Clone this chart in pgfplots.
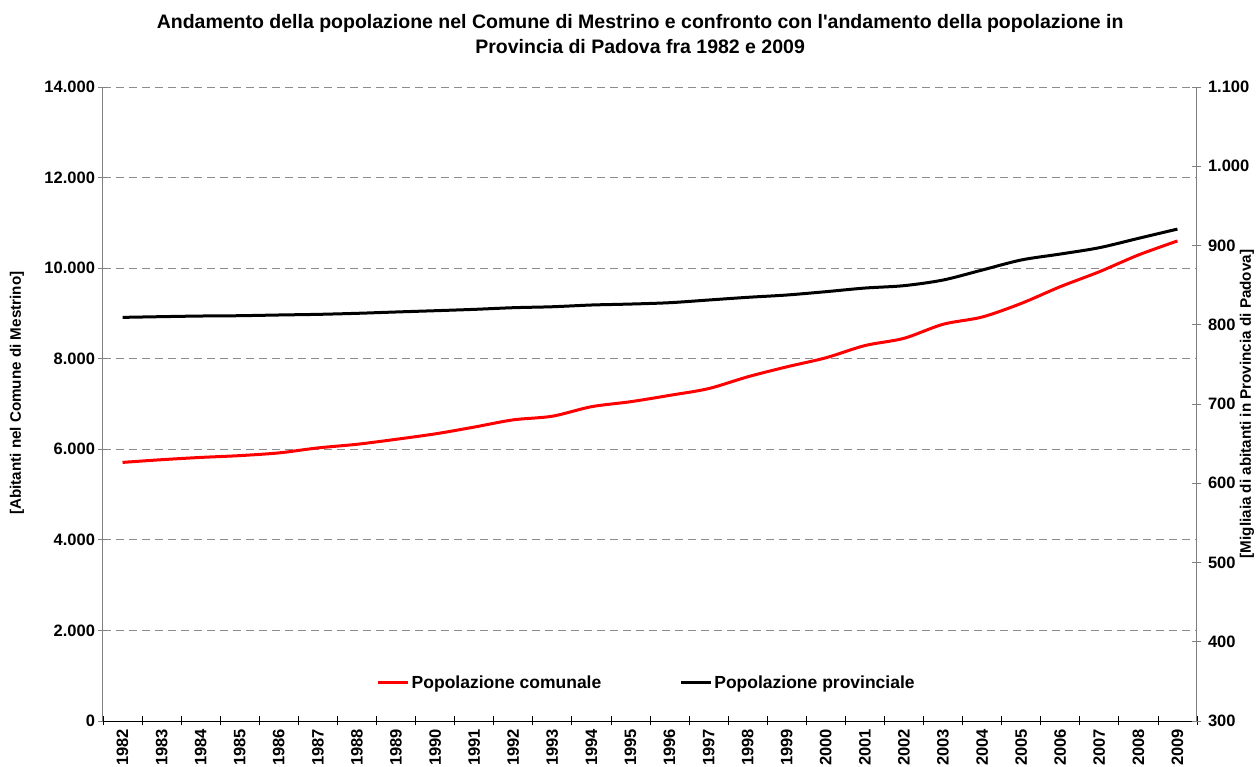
\documentclass[border=0pt]{standalone}
\usepackage{fontspec}
\setmainfont{Liberation Sans}
\usepackage{pgfplots}
\pgfplotsset{compat=1.18}
\definecolor{gridgray}{RGB}{140,140,140}
\definecolor{axgray}{RGB}{128,128,128}
\definecolor{exred}{RGB}{255,0,0}
\newcommand{\tf}{\fontsize{16.5}{18}\selectfont\bfseries}
\newcommand{\lf}{\fontsize{15.2}{18}\selectfont\bfseries}
\newcommand{\gf}{\fontsize{17.5}{20}\selectfont\bfseries}
\begin{document}
\begin{tikzpicture}
\pgfplotsset{
  common/.style={
    width=1094pt, height=634pt, scale only axis,
    xmin=-0.5, xmax=27.5,
    xtick={-0.5,0.5,...,27.5},
    x tick label as interval,
    xticklabels={1982,1983,1984,1985,1986,1987,1988,1989,1990,1991,1992,1993,1994,1995,1996,1997,1998,1999,2000,2001,2002,2003,2004,2005,2006,2007,2008,2009},
    xticklabel style={rotate=90, anchor=east, font=\tf},
    yticklabel style={font=\tf},
    scaled y ticks=false,
    /pgf/number format/1000 sep={.},
    /pgf/number format/assume math mode=true,
    tick align=center,
    major tick length=9pt,
    xtick style={black, line width=0.8pt},
    ytick style={axgray, line width=0.8pt},
    label style={font=\lf},
  }
}
\begin{axis}[common,
  axis x line*=bottom, axis y line*=left,
  x axis line style={black, line width=0.8pt, -},
  y axis line style={axgray, line width=1pt, -},
  ymin=0, ymax=14000, ytick={0,2000,...,14000},
  ymajorgrids,
  major grid style={gridgray, dash pattern=on 8pt off 5pt, line width=0.8pt},
  ylabel={[Abitanti nel Comune di Mestrino]},
  ylabel style={at={(axis description cs:-0.0786,0.517)}, anchor=center},
  title={Andamento della popolazione nel Comune di Mestrino e confronto con l\textquotesingle andamento della popolazione in\\Provincia di Padova fra 1982 e 2009},
  title style={at={(axis description cs:0.491,1.0733)}, anchor=center, align=center, font=\fontsize{19.5}{25}\selectfont\bfseries},
  legend columns=2,
  legend style={draw=none, fill=none, at={(0.497,0.06)}, anchor=center, font=\gf,
    /tikz/every even column/.append style={column sep=76pt}},
  legend image code/.code={\draw[#1] (0pt,0pt) -- (30pt,0pt);},
]
\coordinate (SW) at (rel axis cs:0,0);
\addplot[exred, line width=3pt, smooth] coordinates {
(0,5710) (1,5770) (2,5820) (3,5860) (4,5920) (5,6030) (6,6110) (7,6220)
(8,6340) (9,6490) (10,6650) (11,6730) (12,6940) (13,7050) (14,7190)
(15,7340) (16,7600) (17,7820) (18,8020) (19,8290) (20,8450) (21,8760)
(22,8920) (23,9220) (24,9590) (25,9920) (26,10290) (27,10600)};
\addlegendentry{Popolazione comunale}
\addlegendimage{black, line width=3pt}
\addlegendentry{Popolazione provinciale}
\end{axis}
\begin{axis}[common,
  axis y line*=right, axis x line=none,
  y axis line style={axgray, line width=1pt, -},
  ymin=300, ymax=1100, ytick={300,400,...,1100},
  yticklabel style={xshift=3pt},
  ylabel={[Migliaia di abitanti in Provincia di Padova]},
  ylabel style={at={(axis description cs:1.0457,0.5)}, anchor=center, rotate=0},
]
\addplot[black, line width=3pt, smooth] coordinates {
(0,809.3) (1,810.2) (2,811.0) (3,811.4) (4,812.3) (5,813.1) (6,814.4)
(7,816.1) (8,817.7) (9,819.4) (10,821.5) (11,822.7) (12,824.9) (13,826.1)
(14,827.8) (15,831.2) (16,834.6) (17,837.5) (18,841.7) (19,846.3) (20,849.3)
(21,856.4) (22,869.0) (23,881.7) (24,889.2) (25,897.2) (26,909.0) (27,920.7)};
\end{axis}
\pgfresetboundingbox
\path (SW) ++(-103pt,-46pt) rectangle ++(1259pt,767pt);
\end{tikzpicture}
\end{document}
